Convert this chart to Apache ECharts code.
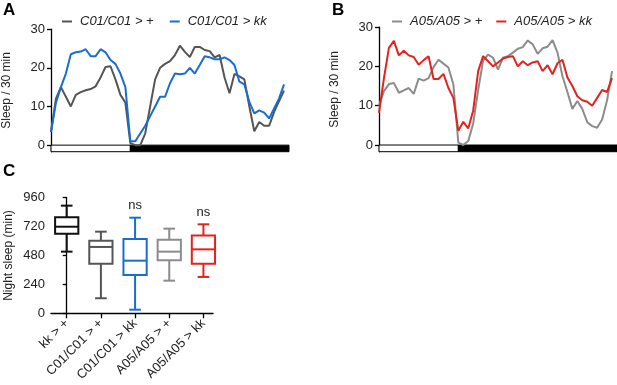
<!DOCTYPE html>
<html>
<head>
<meta charset="utf-8">
<script src="https://cdn.jsdelivr.net/npm/echarts@6/dist/echarts.min.js"></script>
<style>
  html, body { margin: 0; padding: 0; background: #fff; }
  #main { width: 617px; height: 385px; }
</style>
</head>
<body>
<div id="main"></div>
<script>
// sleep per 30 min bin, 48 bins (8h light : 16h dark)
const c01Control = [3.4, 12, 15, 12.5, 10, 13, 13.7, 14.2, 14.5, 15.2, 17.5, 20.2, 20.4, 17, 13, 11,
  0.5, 0, 0, 3, 10, 17, 20, 21,
  21.7, 23.3, 25.7, 24.1, 22.8, 25.4, 25.4, 24.6, 24.3, 22.7, 23.3, 17.5, 13.4, 18.4, 17.8, 17,
  10, 3.6, 6, 5, 5, 8.6, 11.4, 14.1]
const c01Kk = [3.4, 11, 15, 18.5, 23.5, 24, 24.2, 24.8, 23, 23, 24.8, 24, 22, 21, 18.5, 15,
  1, 1, 3, 5, 7.5, 10, 12.5, 12.5,
  16, 18.5, 18.3, 18.5, 20, 18.5, 20.7, 23, 22.7, 22.2, 22.2, 22.7, 22, 20.7, 16.4, 15.7,
  11.2, 8.2, 9, 8.4, 6.9, 9.5, 12.1, 15.7]
const a05Control = [10, 13.7, 15.5, 15.8, 13.3, 13.9, 14.5, 13, 16.9, 16.4, 17, 19.8, 21.7, 20.7, 19.7, 15.4,
  0.6, 0, 1, 5.5, 14, 21.5, 23, 22.2,
  19.2, 22.2, 22.6, 23.5, 24.5, 24.9, 26.6, 25.6, 23.2, 24.6, 25, 26.7, 23.5, 17.5, 13.5, 9.2,
  11.2, 9.2, 5.8, 4.8, 4.4, 6.5, 11.4, 18.8]
const a05Kk = [8.2, 17, 24.7, 26.5, 22.8, 24, 22.8, 22.4, 20.4, 21.6, 22.6, 16.8, 16.8, 18.1, 14.5, 12,
  3.6, 5.9, 4.2, 8.8, 18.8, 22.6, 21.3, 20,
  21, 22, 22.4, 22.6, 20, 21.3, 20.3, 21, 21.3, 18.8, 20.3, 18, 20.8, 21.7, 17.2, 15,
  12.4, 11.4, 11, 10, 12, 14, 13.5, 17]

// light / dark phases in bins
const ldPhases = [[0, 16, 'light'], [16, 48, 'dark']]
const sleepTicks = [0, 10, 20, 30]

// night sleep boxplot (min)
const boxGroups = ['kk > +', 'C01/C01 > +', 'C01/C01 > kk', 'A05/A05 > +', 'A05/A05 > kk']
const boxMin = [512, 125, 30, 271, 302]
const boxQ1 = [661, 412, 318, 440, 412]
const boxMedian = [719, 551, 437, 512, 531]
const boxQ3 = [797, 603, 617, 611, 647]
const boxMax = [894, 678, 794, 703, 739]
const boxSig = ['', '', 'ns', '', 'ns']
const nightTicks = [0, 240, 480, 720, 960]

const darkGrey = '#555555'
const lightGrey = '#8c8c8c'
const blue = '#1a6dd0'
const red = '#e2231f'
const boxColors = ['#111111', darkGrey, blue, lightGrey, red]
const font = 'Liberation Sans, Arial, Helvetica, sans-serif'
const ldBottom = -1.7

function toPoints(arr) {
  return arr.map((v, i) => [i, v])
}

function ldMarkArea() {
  return {
    silent: true,
    data: ldPhases.map(p => [
      {
        xAxis: p[0], yAxis: ldBottom,
        itemStyle: p[2] === 'light'
          ? { color: '#fff', borderColor: '#000', borderWidth: 1 }
          : { color: '#000', borderColor: '#000', borderWidth: 1 }
      },
      { xAxis: p[1], yAxis: 0 }
    ])
  }
}

function sleepYAxis(gridIndex) {
  return {
    gridIndex: gridIndex,
    type: 'value',
    min: ldBottom,
    max: 30,
    name: 'Sleep / 30 min',
    nameLocation: 'middle',
    nameGap: 38,
    nameTextStyle: { fontSize: 12, color: '#222' },
    axisLine: { show: true, lineStyle: { color: '#000', width: 1.3 } },
    axisTick: { show: true, length: 4, customValues: sleepTicks, lineStyle: { color: '#000', width: 1.3 } },
    axisLabel: { fontSize: 13, color: '#222', margin: 6, customValues: sleepTicks },
    splitLine: { show: false }
  }
}

function lineSeries(name, values, color, idx, withLd) {
  const s = {
    name: name,
    type: 'line',
    xAxisIndex: idx,
    yAxisIndex: idx,
    data: toPoints(values),
    showSymbol: false,
    symbol: 'none',
    lineStyle: { width: 2, color: color },
    itemStyle: { color: color },
    z: 3
  }
  if (withLd) s.markArea = ldMarkArea()
  return s
}

function renderBox(params, api) {
  const i = api.value(0)
  const x = api.coord([i, 0])[0]
  const yMin = api.coord([i, api.value(1)])[1]
  const yQ1 = api.coord([i, api.value(2)])[1]
  const yMed = api.coord([i, api.value(3)])[1]
  const yQ3 = api.coord([i, api.value(4)])[1]
  const yMax = api.coord([i, api.value(5)])[1]
  const halfW = api.size([1, 0])[0] * 0.34
  const capW = halfW * 0.5
  const color = boxColors[i]
  const st = { stroke: color, lineWidth: 2, fill: null }
  const children = [
    { type: 'line', shape: { x1: x, y1: yQ3, x2: x, y2: yMax }, style: st },
    { type: 'line', shape: { x1: x - capW, y1: yMax, x2: x + capW, y2: yMax }, style: st },
    { type: 'line', shape: { x1: x, y1: yQ1, x2: x, y2: yMin }, style: st },
    { type: 'line', shape: { x1: x - capW, y1: yMin, x2: x + capW, y2: yMin }, style: st },
    { type: 'rect', shape: { x: x - halfW, y: yQ3, width: halfW * 2, height: yQ1 - yQ3 }, style: { stroke: color, lineWidth: 2, fill: '#fff' } },
    { type: 'line', shape: { x1: x - halfW, y1: yMed, x2: x + halfW, y2: yMed }, style: st }
  ]
  if (boxSig[i]) {
    children.push({
      type: 'text',
      style: { text: boxSig[i], x: x, y: yMax - 12, align: 'center', verticalAlign: 'middle', fontSize: 13, fontFamily: font, fill: '#222' }
    })
  }
  return { type: 'group', children: children }
}

const myChart = echarts.init(document.getElementById('main'), null, { renderer: 'canvas' })

myChart.setOption({
  backgroundColor: '#fff',
  animation: false,
  textStyle: { fontFamily: font },
  title: [
    { text: 'A', left: 3, top: 2, padding: 0, textStyle: { fontSize: 17, fontWeight: 'bold', color: '#000' } },
    { text: 'B', left: 332, top: 2, padding: 0, textStyle: { fontSize: 17, fontWeight: 'bold', color: '#000' } },
    { text: 'C', left: 3, top: 163, padding: 0, textStyle: { fontSize: 17, fontWeight: 'bold', color: '#000' } }
  ],
  legend: [
    {
      data: ['C01/C01 > +', 'C01/C01 > kk'],
      left: 62, top: 15, padding: 0, itemGap: 16,
      icon: 'rect', itemWidth: 10, itemHeight: 2,
      textStyle: { fontSize: 13, fontStyle: 'italic', color: '#222', padding: [0, 0, 0, 3] },
      selectedMode: false
    },
    {
      data: ['A05/A05 > +', 'A05/A05 > kk'],
      left: 392, top: 15, padding: 0, itemGap: 14,
      icon: 'rect', itemWidth: 10, itemHeight: 2,
      textStyle: { fontSize: 13, fontStyle: 'italic', color: '#222', padding: [0, 0, 0, 3] },
      selectedMode: false
    }
  ],
  grid: [
    { left: 51, top: 29.1, width: 238, height: 122.6, outerBoundsMode: 'none' },
    { left: 379, top: 27.1, width: 238, height: 124.6, outerBoundsMode: 'none' },
    { left: 51, top: 197.7, width: 162, height: 115.6, outerBoundsMode: 'none' }
  ],
  xAxis: [
    { gridIndex: 0, type: 'value', min: 0, max: 48, show: false },
    { gridIndex: 1, type: 'value', min: 0, max: 48, show: false },
    {
      gridIndex: 2,
      type: 'value',
      min: -0.46,
      max: 4.28,
      axisLine: { show: true, lineStyle: { color: '#000', width: 1.3 } },
      axisTick: { show: true, length: 5, customValues: [0, 1, 2, 3, 4], lineStyle: { color: '#000', width: 1.3 } },
      axisLabel: {
        customValues: [0, 1, 2, 3, 4],
        formatter: function (v) { return boxGroups[Math.round(v)] },
        rotate: 45,
        fontSize: 13,
        color: '#222',
        margin: 8
      },
      splitLine: { show: false }
    }
  ],
  yAxis: [
    sleepYAxis(0),
    sleepYAxis(1),
    {
      gridIndex: 2,
      type: 'value',
      min: 0,
      max: 960,
      interval: 240,
      name: 'Night sleep (min)',
      nameLocation: 'middle',
      nameGap: 36,
      nameTextStyle: { fontSize: 12, color: '#222' },
      axisLine: { show: true, lineStyle: { color: '#000', width: 1.3 } },
      axisTick: { show: true, length: 4, lineStyle: { color: '#000', width: 1.3 } },
      axisLabel: { fontSize: 13, color: '#222', margin: 6 },
      splitLine: { show: false }
    }
  ],
  series: [
    lineSeries('C01/C01 > +', c01Control, darkGrey, 0, true),
    lineSeries('C01/C01 > kk', c01Kk, blue, 0, false),
    lineSeries('A05/A05 > +', a05Control, lightGrey, 1, true),
    lineSeries('A05/A05 > kk', a05Kk, red, 1, false),
    {
      name: 'Night sleep',
      type: 'custom',
      xAxisIndex: 2,
      yAxisIndex: 2,
      renderItem: renderBox,
      encode: { x: 0, y: [1, 2, 3, 4, 5] },
      data: boxGroups.map((g, i) => [i, boxMin[i], boxQ1[i], boxMedian[i], boxQ3[i], boxMax[i]]),
      silent: true
    }
  ]
})
</script>
</body>
</html>
